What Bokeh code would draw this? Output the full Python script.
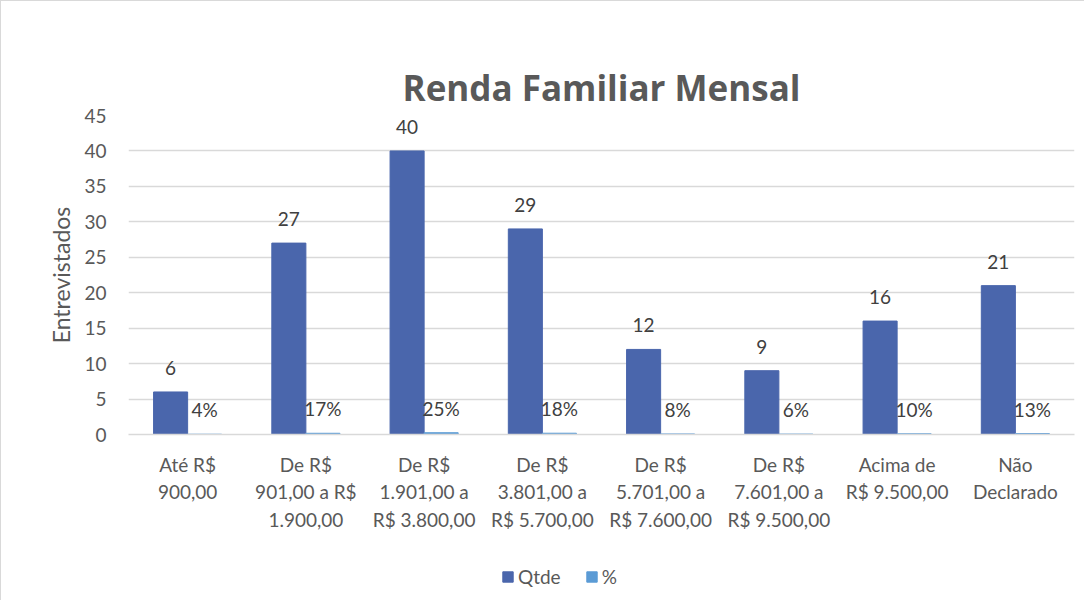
from bokeh.plotting import figure
from bokeh.layouts import column
from bokeh.models import FactorRange, Range1d, FixedTicker, ColumnDataSource, LabelSet, Legend, LegendItem, Title
from bokeh.core.properties import value
from bokeh.transform import dodge
from bokeh.embed import file_html
from bokeh.resources import INLINE

categories = [
    "Até R$\n900,00",
    "De R$\n901,00 a R$\n1.900,00",
    "De R$\n1.901,00 a\nR$ 3.800,00",
    "De R$\n3.801,00 a\nR$ 5.700,00",
    "De R$\n5.701,00 a\nR$ 7.600,00",
    "De R$\n7.601,00 a\nR$ 9.500,00",
    "Acima de\nR$ 9.500,00",
    "Não\nDeclarado",
]
qtde = [6, 27, 40, 29, 12, 9, 16, 21]
pct = [0.04, 0.17, 0.25, 0.18, 0.08, 0.06, 0.10, 0.13]
y_ticks = [0, 5, 10, 15, 20, 25, 30, 35, 40, 45]
series_names = ["Qtde", "%"]
chart_title = "Renda Familiar Mensal"

FONT = "Lato"
TXT = "#595959"
C_Q = "#4A66AC"
C_P = "#5B9BD5"

src = ColumnDataSource(dict(
    cat=categories,
    qtde=qtde,
    pct=pct,
    qtde_lbl=[str(v) for v in qtde],
    pct_lbl=[f"{round(v*100)}%" for v in pct],
))

p = figure(
    x_range=FactorRange(*categories, range_padding=0),
    y_range=Range1d(0, 45),
    width=1083, height=533,
    min_border_left=127, min_border_right=10, min_border_top=114, min_border_bottom=100,
    output_backend="svg", toolbar_location=None,
    title=" ",
)
# the default title acts as an empty spacer between the frame and the real title
p.title.text_font_size = "18px"
p.add_layout(Title(text=chart_title, text_font="Open Sans", text_font_size="35px",
                   text_font_style="bold", text_color=TXT, align="center"), "above")

p.outline_line_color = None
p.xgrid.grid_line_color = None
p.ygrid.grid_line_color = "#D9D9D9"
p.ygrid.grid_line_width = 1.3

p.yaxis.ticker = FixedTicker(ticks=y_ticks)
p.yaxis.axis_line_color = None
p.yaxis.major_tick_line_color = None
p.yaxis.minor_tick_line_color = None
p.yaxis.major_label_text_font = FONT
p.yaxis.major_label_text_font_size = "19px"
p.yaxis.major_label_text_color = TXT
p.yaxis.major_label_standoff = 16
p.yaxis.axis_label = "Entrevistados"
p.yaxis.axis_label_text_font = FONT
p.yaxis.axis_label_text_font_size = "23px"
p.yaxis.axis_label_text_font_style = "normal"
p.yaxis.axis_label_text_color = TXT
p.yaxis.axis_label_standoff = 6

p.xaxis.axis_line_color = "#D9D9D9"
p.xaxis.axis_line_width = 1.3
p.xaxis.major_tick_line_color = None
p.xaxis.minor_tick_line_color = None
p.xaxis.major_label_text_font = FONT
p.xaxis.major_label_text_font_size = "19px"
p.xaxis.major_label_text_color = TXT
p.xaxis.major_label_standoff = 12

p.vbar(x=dodge("cat", -0.144, range=p.x_range), top="qtde", width=0.288, source=src,
       fill_color=C_Q, line_color=C_Q)
p.vbar(x=dodge("cat", 0.144, range=p.x_range), top="pct", width=0.288, source=src,
       fill_color=C_P, line_color=C_P)

for col, lbl, off in [("qtde", "qtde_lbl", -0.144), ("pct", "pct_lbl", 0.144)]:
    ls = LabelSet(x=dodge("cat", off, range=p.x_range), y=col, text=lbl, source=src,
                  text_align="center", text_baseline="alphabetic", y_offset=17,
                  text_font=value(FONT), text_font_size=value("19px"), text_color="#404040")
    p.add_layout(ls)

# legend strip below the chart; legend handles are off-screen proxy glyphs
leg = figure(width=1083, height=66, x_range=Range1d(0, 1), y_range=Range1d(0, 1),
             x_axis_type=None, y_axis_type=None, output_backend="svg", toolbar_location=None,
             min_border=0)
leg.outline_line_color = None
leg.grid.grid_line_color = None
lq = leg.vbar(x=[-5], top=[-5], width=0.1, fill_color=C_Q, line_color=C_Q)
lp = leg.vbar(x=[-5], top=[-5], width=0.1, fill_color=C_P, line_color=C_P)
legend = Legend(items=[LegendItem(label=series_names[0], renderers=[lq]),
                       LegendItem(label=series_names[1], renderers=[lp])],
                orientation="horizontal", location=(373, 12),
                label_text_font=FONT, label_text_font_size="19px", label_text_color=TXT,
                glyph_width=13, glyph_height=13, spacing=24, label_standoff=4,
                padding=0, margin=0,
                border_line_color=None, background_fill_alpha=0)
leg.add_layout(legend, "center")

layout = column(p, leg, spacing=0,
                styles={"border-left": "1px solid #D9D9D9", "border-top": "1px solid #D9D9D9"})

open("out.html", "w").write(file_html(layout, INLINE))
